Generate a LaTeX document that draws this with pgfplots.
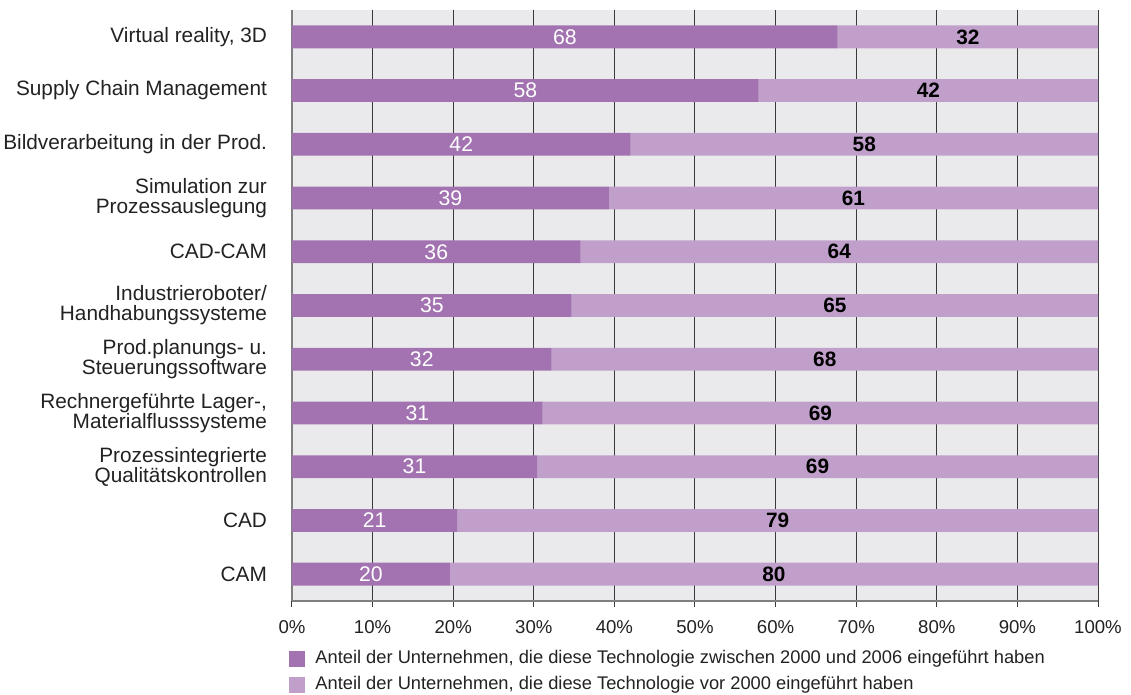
\documentclass[border=0pt]{standalone}
\usepackage{fontspec}
\setmainfont{Liberation Sans}
\usepackage{pgfplots}
\usepackage{pgfplotstable}
\pgfplotsset{compat=1.18}

\definecolor{darkviolet}{HTML}{A273B0}
\definecolor{lightviolet}{HTML}{C0A0CB}
\definecolor{plotbg}{HTML}{EAEAEC}
\definecolor{gridcol}{HTML}{3A3A3A}
\definecolor{axcol}{HTML}{7F7F7F}
\definecolor{txt}{HTML}{222222}

% y: 0 = CAM (bottom) ... 10 = Virtual reality (top)
% a = since 2000-2006, b = before 2000, la/lb = printed labels
\pgfplotstableread{
y  a     b     la  lb
0  19.6  80.4  20  80
1  20.5  79.5  21  79
2  30.4  69.6  31  69
3  31.1  68.9  31  69
4  32.2  67.8  32  68
5  34.7  65.3  35  65
6  35.8  64.2  36  64
7  39.3  60.7  39  61
8  42.0  58.0  42  58
9  57.9  42.1  58  42
10 67.7  32.3  68  32
}\datatable

\begin{document}
\begin{tikzpicture}[font=\fontsize{10.4}{10}\selectfont, text=txt]
\begin{axis}[
  at={(0,0)}, anchor=south west,
  scale only axis, width=403pt, height=295.5pt,
  xbar stacked, bar width=11.4pt,
  xmin=0, xmax=100, ymin=-0.5, ymax=10.5,
  axis background/.style={fill=plotbg},
  axis lines*=left,
  axis line style={axcol, line width=0.9pt},
  xtick={0,10,...,100},
  xticklabels={0\%,10\%,20\%,30\%,40\%,50\%,60\%,70\%,80\%,90\%,100\%},
  xmajorgrids, major grid style={gridcol, line width=0.5pt},
  x tick style={gridcol, line width=0.5pt},
  tick align=outside, major tick length=3pt,
  xticklabel style={font=\fontsize{9.3}{10}\selectfont, anchor=north, yshift=-3pt},
  ytick={0,...,10},
  y tick style={draw=none},
  yticklabels={CAM, CAD, {Prozessintegrierte\\Qualitätskontrollen},
    {Rechnergeführte Lager-,\\Materialflusssysteme},
    {Prod.planungs- u.\\Steuerungssoftware},
    {Industrieroboter/\\Handhabungssysteme}, CAD-CAM,
    {Simulation zur\\Prozessauslegung}, Bildverarbeitung in der Prod.,
    Supply Chain Management, {Virtual reality, 3D}},
  yticklabel style={align=right, anchor=east, xshift=-6pt},
  extra y ticks={-0.5,0.5,...,10.5},
  extra y tick labels={},
  extra y tick style={grid=none, tick style={draw=axcol, line width=0.9pt}},
  legend style={at={(0,0)}, anchor=north west, yshift=-24.3pt, xshift=-1.5pt,
    draw=none, fill=none, inner sep=0pt, row sep=4pt, column sep=5pt,
    nodes={inner sep=0pt, text height=7pt, text depth=2pt},
    cells={anchor=west},
    font=\fontsize{9.15}{10}\selectfont},
  legend cell align=left,
  legend image code/.code={\fill[#1] (0pt,-4pt) rectangle (8pt,4pt);},
  nodes near coords, point meta=explicit symbolic,
  clip=false,
]
\addplot[fill=darkviolet, draw=none,
  nodes near coords style={text=white, font=\fontsize{10.6}{10}\selectfont}]
  table[x=a, y=y, meta=la] {\datatable};
\addlegendentry{Anteil der Unternehmen, die diese Technologie zwischen 2000 und 2006 eingeführt haben}
\addplot[fill=lightviolet, draw=none,
  nodes near coords style={text=black, font=\fontsize{10.4}{10}\selectfont\bfseries}]
  table[x=b, y=y, meta=lb] {\datatable};
\addlegendentry{Anteil der Unternehmen, die diese Technologie vor 2000 eingeführt haben}
\end{axis}
\pgfresetboundingbox
\path (-146pt,-47pt) rectangle (419.5pt,300.5pt);
\end{tikzpicture}
\end{document}
